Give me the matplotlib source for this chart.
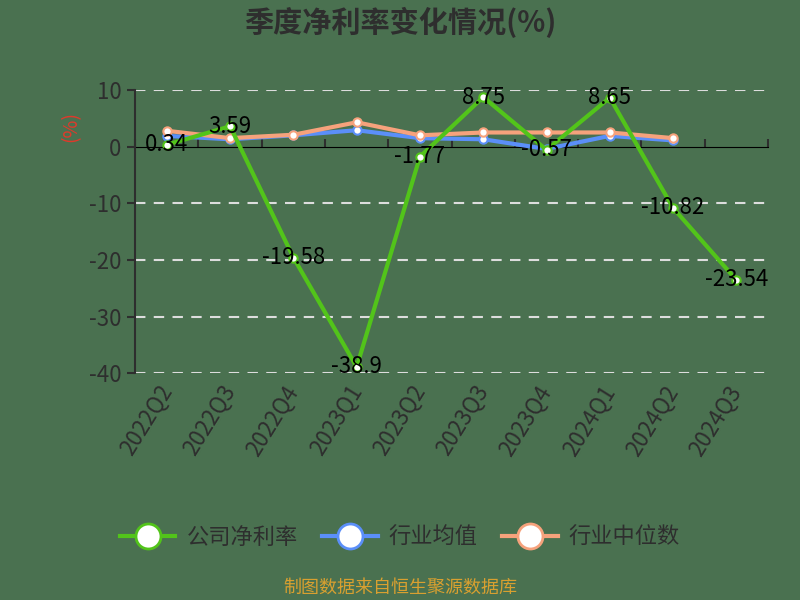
import matplotlib
matplotlib.use("Agg")
import matplotlib.pyplot as plt
import numpy as np
from matplotlib.lines import Line2D

plt.rcParams['font.family'] = ['Noto Sans CJK SC', 'DejaVu Sans']

categories = ["2022Q2", "2022Q3", "2022Q4", "2023Q1", "2023Q2", "2023Q3", "2023Q4", "2024Q1", "2024Q2", "2024Q3"]
company = [0.34, 3.59, -19.58, -38.9, -1.77, 8.75, -0.57, 8.65, -10.82, -23.54]
company_labels = ["0.34", "3.59", "-19.58", "-38.9", "-1.77", "8.75", "-0.57", "8.65", "-10.82", "-23.54"]
industry_avg = [1.9, 1.3, 2.0, 2.9, 1.5, 1.3, -0.4, 1.9, 1.1]
industry_median = [2.8, 1.5, 2.1, 4.3, 2.0, 2.5, 2.5, 2.5, 1.5]
yticks = [10, 0, -10, -20, -30, -40]

bg = "#4a7150"
green = "#52c41a"
blue = "#5b8ff9"
orange = "#f6a27c"
txt = "#2e2e2e"

fig = plt.figure(figsize=(8, 6), dpi=100, facecolor=bg)
ax = fig.add_axes([0.169, 0.378, 0.791, 0.472], facecolor=bg)

x = np.arange(len(categories))
xa = np.arange(len(industry_avg))
xm = np.arange(len(industry_median))

ax.plot(xa, industry_avg, color=blue, lw=3, marker='o', ms=6, mfc='white', mec=blue, mew=1.5, zorder=3)
ax.plot(xm, industry_median, color=orange, lw=3, marker='o', ms=6, mfc='white', mec=orange, mew=1.5, zorder=4)
ax.plot(x, company, color=green, lw=3, marker='o', ms=6, mfc='white', mec=green, mew=1.5, zorder=5)

for xi, yi, lab in zip(x, company, company_labels):
    ax.text(xi, yi, lab, ha='center', va='center', fontsize=16, color='black', zorder=6)

ax.set_xlim(-0.5, len(categories) - 0.5)
ax.set_ylim(-40, 10)
ax.set_yticks(yticks)
ax.set_yticklabels([str(v) for v in yticks], fontsize=16, color=txt)
for v in yticks:
    if v != 0:
        ax.axhline(v, color='#dddddd', lw=1.5, ls=(0, (5, 4)), zorder=1)

ax.spines['top'].set_visible(False)
ax.spines['right'].set_visible(False)
ax.spines['bottom'].set_visible(False)
ax.spines['left'].set_color(txt)
ax.spines['left'].set_linewidth(1.5)
ax.tick_params(axis='y', length=6, width=1.5, color=txt, pad=4)

ax.set_xticks(x)
ax.set_xticklabels(categories, rotation=58, ha='right', va='center', rotation_mode='anchor', fontsize=16, color=txt)
ax.tick_params(axis='x', length=0, pad=10)

sec = ax.secondary_xaxis(0.8)
sec.set_xticks(np.arange(len(categories) + 1) - 0.5)
sec.set_xticklabels([])
sec.spines['bottom'].set_color(txt)
sec.spines['bottom'].set_linewidth(1.5)
sec.tick_params(axis='x', length=6, width=1.5, color=txt, direction='out')

ax.set_ylabel("(%)", color='#e0392b', fontsize=14)
ax.yaxis.set_label_coords(-0.085, 0.87)

fig.text(0.5, 0.962, "季度净利率变化情况(%)", ha='center', va='center', fontsize=21, fontweight='bold', color=txt)

handles = [
    Line2D([], [], color=green, lw=3, marker='o', ms=18, mfc='white', mec=green, mew=2),
    Line2D([], [], color=blue, lw=3, marker='o', ms=18, mfc='white', mec=blue, mew=2),
    Line2D([], [], color=orange, lw=3, marker='o', ms=18, mfc='white', mec=orange, mew=2),
]
leg = fig.legend(handles, ["公司净利率", "行业均值", "行业中位数"], loc='center', bbox_to_anchor=(0.5, 0.105),
                 ncol=3, frameon=False, fontsize=16, handlelength=2.5, columnspacing=1.1, handletextpad=0.5)
for t in leg.get_texts():
    t.set_color(txt)

fig.text(0.5, 0.02, "制图数据来自恒生聚源数据库", ha='center', va='center', fontsize=13, color='#d9a030')

fig.savefig("out.png", dpi=100, facecolor=bg)
